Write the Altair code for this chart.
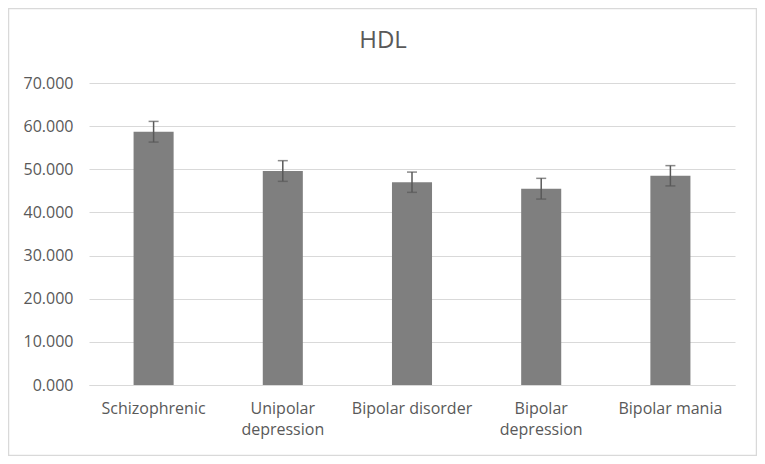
import altair as alt
import pandas as pd

categories = ["Schizophrenic", "Unipolar\ndepression", "Bipolar disorder", "Bipolar\ndepression", "Bipolar mania"]
means = [58.7, 49.6, 47.0, 45.5, 48.5]
errors = [2.4, 2.4, 2.35, 2.4, 2.35]
y_ticks = [0, 10, 20, 30, 40, 50, 60, 70]

df = pd.DataFrame({"cat": categories, "mean": means, "err": errors})
df["lo"] = df["mean"] - df["err"]
df["hi"] = df["mean"] + df["err"]

FONT = "Open Sans"
TXT = "#595959"
GRID = "#d9d9d9"

x_enc = alt.X("cat:N", sort=categories, title=None,
              scale=alt.Scale(paddingInner=0.69, paddingOuter=0.345),
              axis=alt.Axis(labelExpr="split(datum.label, '\\n')", labelAngle=0,
                            labelFontSize=16, labelColor=TXT, labelFont=FONT,
                            labelPadding=15, labelLineHeight=21, ticks=False, grid=False,
                            domainColor=GRID, domainWidth=1.2, labelBaseline="top"))
y_scale = alt.Scale(domain=[0, 70], nice=False)

base = alt.Chart(df)

bars = base.mark_bar(color="#7f7f7f").encode(
    x=x_enc,
    y=alt.Y("mean:Q", scale=y_scale, title=None,
            axis=alt.Axis(values=y_ticks, format=".3f", domain=False, ticks=False,
                          labelFontSize=16, labelColor=TXT, labelFont=FONT,
                          labelPadding=16, gridColor=GRID, gridWidth=1.2)),
)

rules = base.mark_rule(color=TXT, strokeWidth=1.5).encode(
    x=alt.X("cat:N", sort=categories),
    y=alt.Y("lo:Q", scale=y_scale),
    y2="hi:Q",
)
caps_hi = base.mark_tick(color=TXT, size=10, thickness=1.5).encode(
    x=alt.X("cat:N", sort=categories),
    y=alt.Y("hi:Q", scale=y_scale),
)
caps_lo = base.mark_tick(color=TXT, size=10, thickness=1.5).encode(
    x=alt.X("cat:N", sort=categories),
    y=alt.Y("lo:Q", scale=y_scale),
)

title = alt.Chart(pd.DataFrame({"t": ["HDL"]})).mark_text(
    font=FONT, fontSize=24, color=TXT, baseline="alphabetic", align="center"
).encode(text="t:N", x=alt.value(294), y=alt.value(-35))

border = alt.Chart(pd.DataFrame({"a": [0]})).mark_rect(
    fill=None, stroke=GRID, strokeWidth=1.5
).encode(x=alt.value(-80.5), x2=alt.value(667.5), y=alt.value(-74.5), y2=alt.value(372.5))

chart = alt.layer(border, bars, rules, caps_hi, caps_lo, title).properties(
    width=646, height=302,
    background="white",
    autosize=alt.AutoSizeParams(type="none"),
    padding={"left": 81, "top": 75, "right": 22, "bottom": 71},
).configure_view(stroke=None, strokeWidth=0)

chart.save("out.html", embed_options={"renderer": "svg", "actions": False})
